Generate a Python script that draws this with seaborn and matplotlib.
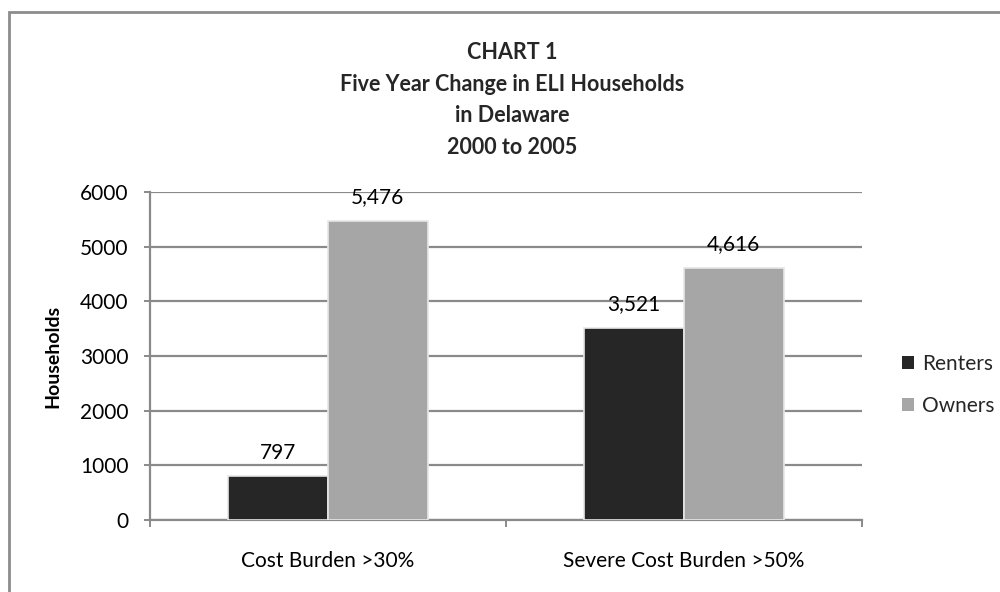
import matplotlib
matplotlib.use("Agg")
import matplotlib.pyplot as plt
from matplotlib.patches import Patch, Rectangle
import pandas as pd
import seaborn as sns

# Data
categories = ["Cost Burden >30%", "Severe Cost Burden >50%"]
renters = [797, 3521]
owners = [5476, 4616]
series_names = ["Renters", "Owners"]
y_ticks = [0, 1000, 2000, 3000, 4000, 5000, 6000]

colors = {"Renters": "#262626", "Owners": "#a6a6a6"}
grid_gray = "#8a8a8a"

df = pd.DataFrame({
    "category": categories * 2,
    "households": renters + owners,
    "tenure": [series_names[0]] * len(categories) + [series_names[1]] * len(categories),
})

sns.set_theme(style="white")
plt.rcParams["font.family"] = ["Lato", "DejaVu Sans"]

fig = plt.figure(figsize=(10, 5.92), dpi=100)
ax = fig.add_axes([0.15, 0.1216, 0.712, 0.554])

sns.barplot(data=df, x="category", y="households", hue="tenure",
            hue_order=series_names, palette=colors, width=0.56,
            edgecolor="#e6e6e6", linewidth=1.2, saturation=1,
            legend=False, ax=ax, zorder=3)

ax.set_ylim(0, 6000)
ax.set_yticks(y_ticks)
ax.set_yticklabels([str(v) for v in y_ticks])
ax.yaxis.grid(True, color=grid_gray, linewidth=1.6, zorder=0)
ax.set_axisbelow(True)

for side in ["top", "right"]:
    ax.spines[side].set_visible(False)
for side in ["left", "bottom"]:
    ax.spines[side].set_color(grid_gray)
    ax.spines[side].set_linewidth(1.6)

ax.tick_params(axis="y", which="major", left=True, length=4.5, width=1.4,
               color=grid_gray, pad=11, labelsize=15, labelcolor="black")
ax.set_xlim(-0.5, 1.5)
ax.set_xticks([-0.5, 0.5, 1.5], minor=True)
ax.tick_params(axis="x", which="minor", bottom=True, length=5, width=1.4,
               color=grid_gray, direction="out")
ax.tick_params(axis="x", which="major", bottom=False, length=0, pad=22,
               labelsize=15, labelcolor="black")

ax.set_xlabel("")
ax.set_ylabel("Households", fontsize=14, fontweight="bold", color="black")
ax.yaxis.set_label_coords(-0.125, 0.5)

# Value labels above each bar
for container in ax.containers:
    ax.bar_label(container, labels=[f"{v:,.0f}" for v in container.datavalues],
                 padding=10, fontsize=15, color="black")

# Title
fig.text(0.512, 0.831,
         "CHART 1\nFive Year Change in ELI Households\nin Delaware\n2000 to 2005",
         ha="center", va="center", multialignment="center",
         fontsize=15.5, fontweight="bold", linespacing=1.64)

# Legend
handles = [Patch(facecolor=colors[n], edgecolor="none", label=n) for n in series_names]
fig.legend(handles=handles, loc="center left", bbox_to_anchor=(0.892, 0.35),
           frameon=False, fontsize=15, handlelength=0.55, handleheight=0.55,
           handletextpad=0.4, labelspacing=1.05, borderpad=0)

# Chart-area frame
fig.patches.append(Rectangle((0.009, -0.05), 1.1, 0.05 + 0.9797,
                             transform=fig.transFigure, fill=False,
                             edgecolor="#8c8c8c", linewidth=2, clip_on=False))

fig.savefig("out.png", dpi=100)
